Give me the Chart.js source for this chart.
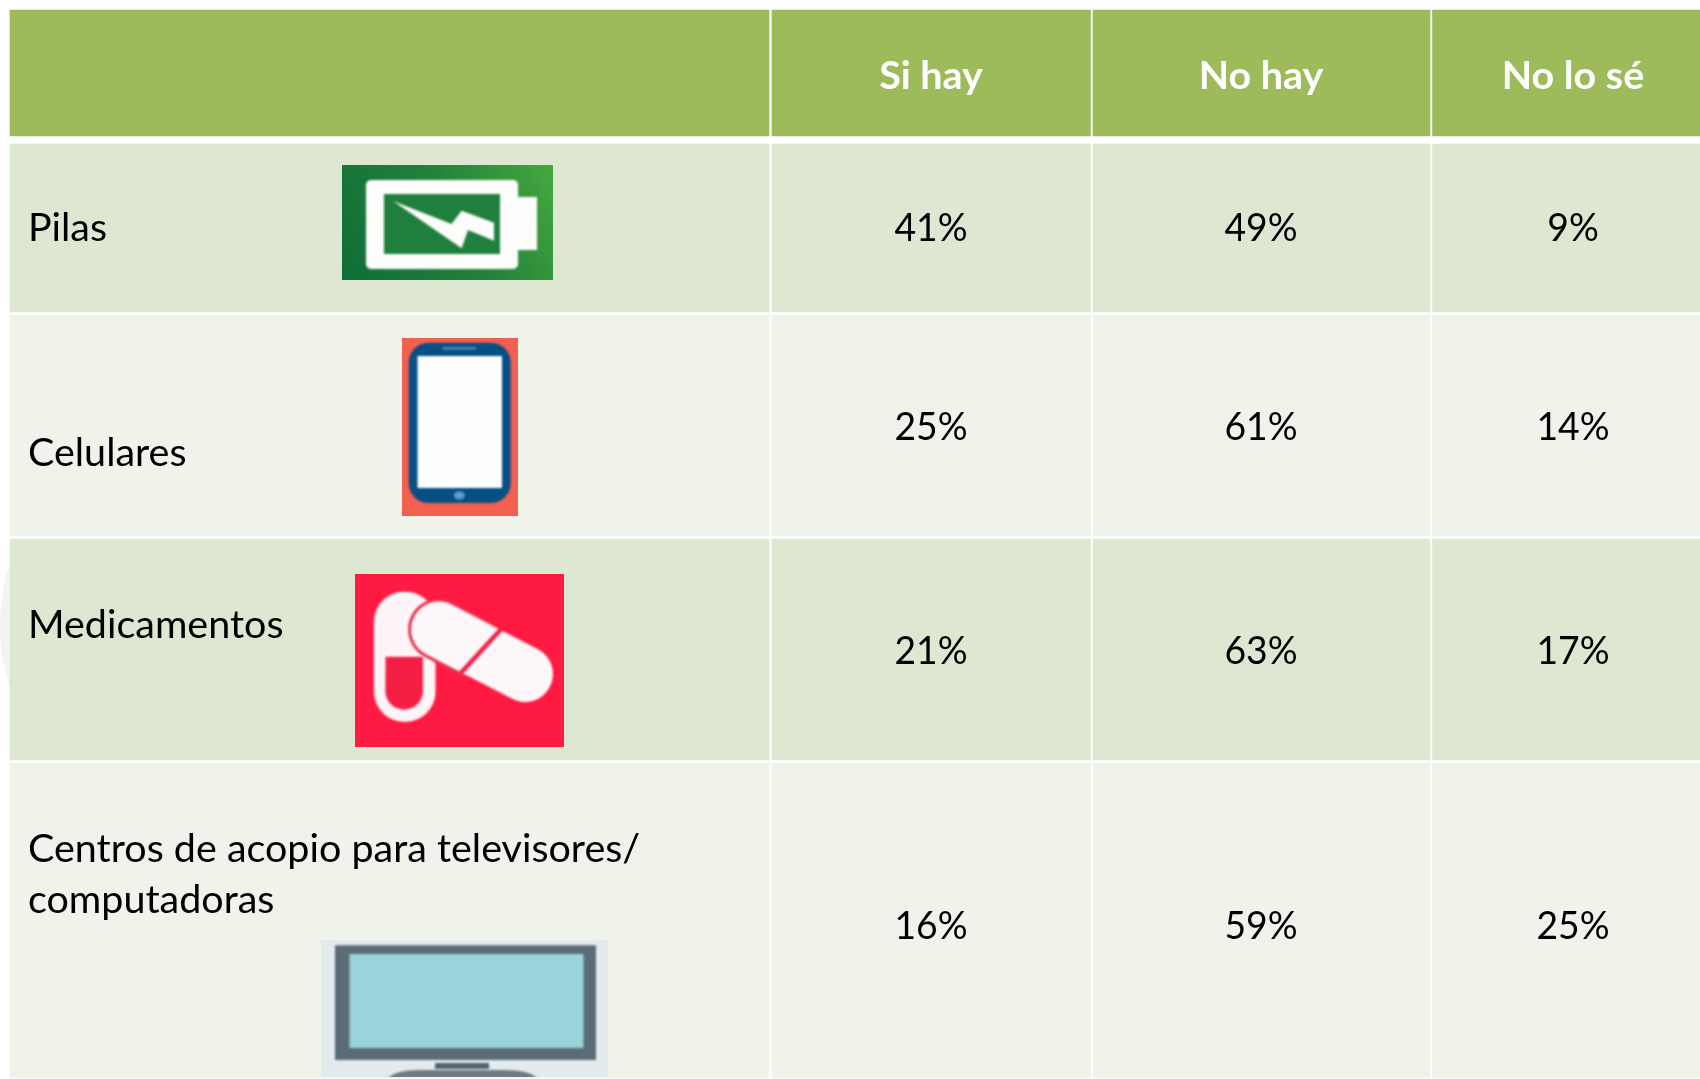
<!DOCTYPE html>
<html lang="es"><head><meta charset="utf-8">
<style>html,body{margin:0;padding:0;background:#fff;overflow:hidden}canvas{display:block}</style>
<script src="https://cdn.jsdelivr.net/npm/chart.js@4"></script>
</head><body><canvas id="c" width="1700" height="1079"></canvas>
<script>
// ---- table content ----
const columnLabels = ['Si hay', 'No hay', 'No lo sé'];
const rowLabels = [['Pilas'], ['Celulares'], ['Medicamentos'], ['Centros de acopio para televisores/', 'computadoras']];
const siHay = [41, 25, 21, 16];
const noHay = [49, 61, 63, 59];
const noLoSe = [9, 14, 17, 25];
const seriesValues = [siHay, noHay, noLoSe];

// ---- table layout (axis units, one unit = one pixel) ----
const columnEdges = [[10, 769], [772, 1090.5], [1093, 1430], [1432.5, 1700]];
const columnCentres = [931, 1261, 1573];
const rowEdges = [[10, 136], [144, 312], [315, 536], [539, 760], [763, 1078]];
const rowFills = ['#9DBB5B', '#DEE7D2', '#F0F3EA', '#DEE7D2', '#F0F3EA'];
const valueBaselines = [241, 440, 664, 939];
const labelBaselines = [[241], [466], [638], [862, 913]];
const headerBaseline = 89;
const labelLeft = 28;
const FONT = 'Lato, Carlito, sans-serif';
const FONT_SIZE = 39, LABEL_X_SCALE = 1.012, VALUE_X_SCALE = 0.955;

const datasets = rowEdges.map((edges, r) => ({
  label: r === 0 ? 'Encabezado' : rowLabels[r - 1].join(' '),
  data: columnEdges.map(c => ({ x: c, y: (edges[0] + edges[1]) / 2 })),
  barThickness: edges[1] - edges[0],
  backgroundColor: rowFills[r],
  borderWidth: 0,
  borderSkipped: false,
  grouped: false
}));

function text(ctx, str, x, y, align, weight, color, xs) {
  ctx.save();
  ctx.font = weight + ' ' + FONT_SIZE + 'px ' + FONT;
  ctx.fillStyle = color;
  ctx.textBaseline = 'alphabetic';
  ctx.textAlign = align;
  ctx.translate(x, y);
  ctx.scale(xs, 1);
  ctx.fillText(str, 0, 0);
  ctx.restore();
}
function rr(ctx, x0, y0, x1, y1, r) {
  ctx.beginPath();
  ctx.roundRect(x0, y0, x1 - x0, y1 - y0, r);
}
function poly(ctx, pts) {
  ctx.beginPath();
  pts.forEach((p, i) => i ? ctx.lineTo(p[0], p[1]) : ctx.moveTo(p[0], p[1]));
  ctx.closePath();
}
function drawBattery(ctx) {
  const g = ctx.createLinearGradient(342, 280, 553, 165);
  g.addColorStop(0, '#0F6E37'); g.addColorStop(0.55, '#22813B'); g.addColorStop(1, '#47A83F');
  ctx.fillStyle = g; ctx.fillRect(342, 165, 211, 115);
  ctx.filter = 'blur(1px)';
  ctx.fillStyle = '#FDFEFC';
  rr(ctx, 366, 180, 518, 269, 5); ctx.fill();
  ctx.fillRect(514, 197, 23, 53);
  ctx.fillStyle = '#1F7F3C'; ctx.fillRect(384, 194, 116, 60);
  ctx.fillStyle = '#FDFEFC';
  poly(ctx, [[393, 201], [451.5, 224], [461.7, 210.7], [494, 222.7], [494, 240.7], [468, 230], [461.7, 248.3]]);
  ctx.fill();
  ctx.filter = 'none';
}
function drawPhone(ctx) {
  ctx.fillStyle = '#F2604F'; ctx.fillRect(402, 338, 116, 178);
  ctx.filter = 'blur(0.8px)';
  ctx.fillStyle = '#064F85'; rr(ctx, 408.7, 342.7, 510.7, 503, 20); ctx.fill();
  ctx.fillStyle = '#FDFEFE'; ctx.fillRect(417.5, 356, 84.5, 132);
  ctx.fillStyle = '#5F9CC8'; ctx.fillRect(442.7, 347.3, 33.3, 2);
  ctx.beginPath(); ctx.ellipse(459.3, 495.3, 5.5, 4, 0, 0, 7); ctx.fill();
  ctx.filter = 'none';
}
function drawPills(ctx) {
  ctx.fillStyle = '#FF1A42'; ctx.fillRect(355, 574, 209, 173);
  ctx.filter = 'blur(0.9px)';
  ctx.fillStyle = '#FDF5F8';
  rr(ctx, 374, 591.7, 435.5, 721.7, 30); ctx.fill();
  ctx.fillStyle = '#F51F45';
  ctx.beginPath();
  ctx.moveTo(385.5, 656.7); ctx.lineTo(423, 656.7); ctx.lineTo(423, 691);
  ctx.arc(404.2, 691, 18.8, 0, Math.PI); ctx.closePath(); ctx.fill();
  ctx.lineCap = 'round';
  ctx.strokeStyle = '#E8324F'; ctx.lineWidth = 62;
  ctx.beginPath(); ctx.moveTo(439, 629.5); ctx.lineTo(470, 646); ctx.stroke();
  ctx.strokeStyle = '#FDF7F9'; ctx.lineWidth = 56;
  ctx.beginPath(); ctx.moveTo(439, 629.5); ctx.lineTo(525, 674); ctx.stroke();
  ctx.lineCap = 'butt';
  ctx.strokeStyle = '#F01F45'; ctx.lineWidth = 4.5;
  ctx.beginPath(); ctx.moveTo(503, 627); ctx.lineTo(460, 674); ctx.stroke();
  ctx.filter = 'none';
}
function drawTv(ctx) {
  ctx.save();
  ctx.beginPath(); ctx.rect(321, 940, 287, 137); ctx.clip();
  ctx.fillStyle = '#E3EBEE'; ctx.fillRect(321, 940, 287, 137);
  ctx.filter = 'blur(0.9px)';
  ctx.fillStyle = '#5C6C76'; ctx.fillRect(335, 945.3, 261, 114.7);
  ctx.fillStyle = '#98D4DA'; ctx.fillRect(349.5, 954, 234, 94);
  ctx.fillStyle = '#56616E'; ctx.fillRect(435, 1063, 54, 6);
  ctx.fillStyle = '#6E7A82';
  ctx.beginPath(); ctx.moveTo(388, 1078);
  ctx.quadraticCurveTo(396, 1070, 420, 1070); ctx.lineTo(505, 1070);
  ctx.quadraticCurveTo(529, 1070, 537, 1078); ctx.closePath(); ctx.fill();
  ctx.restore();
}

const tableText = {
  id: 'tableText',
  beforeDatasetsDraw(chart) {
    const { ctx } = chart;
    ctx.save();
    ctx.beginPath(); ctx.rect(0, 0, 10, 1079); ctx.clip();
    ctx.fillStyle = '#F3F3F3';
    ctx.beginPath(); ctx.arc(197, 625, 197, 0, 7); ctx.fill();
    ctx.restore();
  },
  afterDatasetsDraw(chart) {
    const { ctx, scales: { x: X, y: Y } } = chart;
    columnLabels.forEach((c, i) => text(ctx, c, X.getPixelForValue(columnCentres[i]), Y.getPixelForValue(headerBaseline), 'center', '700', '#FFFFFF', LABEL_X_SCALE));
    rowLabels.forEach((lines, r) => {
      lines.forEach((l, k) => text(ctx, l, X.getPixelForValue(labelLeft), Y.getPixelForValue(labelBaselines[r][k]), 'left', '400', '#000000', LABEL_X_SCALE));
      seriesValues.forEach((s, c) => text(ctx, s[r] + '%', X.getPixelForValue(columnCentres[c]), Y.getPixelForValue(valueBaselines[r]), 'center', '400', '#000000', VALUE_X_SCALE));
    });
    ctx.save();
    drawBattery(ctx); drawPhone(ctx); drawPills(ctx); drawTv(ctx);
    ctx.restore();
  }
};

new Chart(document.getElementById('c'), {
  type: 'bar',
  data: { datasets },
  plugins: [tableText],
  options: {
    indexAxis: 'y',
    responsive: false,
    animation: false,
    layout: { padding: 0 },
    plugins: { legend: { display: false }, tooltip: { enabled: false }, title: { display: false } },
    scales: {
      x: { type: 'linear', min: 0, max: 1700, display: false, offset: false },
      y: { type: 'linear', min: 0, max: 1079, reverse: true, display: false, offset: false }
    }
  }
});
</script></body></html>
